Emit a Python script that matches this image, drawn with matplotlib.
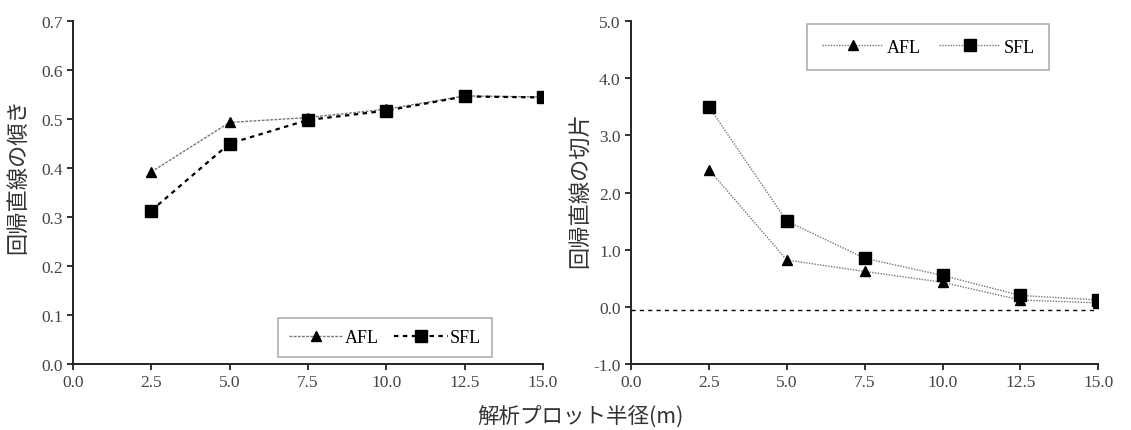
import numpy as np
import matplotlib.pyplot as plt

plt.rcParams['font.family'] = ['Liberation Serif', 'Noto Sans CJK JP']

# plot radius (m)
radius = [2.5, 5.0, 7.5, 10.0, 12.5, 15.0]

# slope of regression line
slope_afl = [0.392, 0.493, 0.503, 0.520, 0.547, 0.545]
slope_sfl = [0.313, 0.450, 0.498, 0.517, 0.546, 0.544]

# intercept of regression line
icpt_afl = [2.40, 0.82, 0.62, 0.43, 0.12, 0.07]
icpt_sfl = [3.50, 1.50, 0.85, 0.55, 0.20, 0.12]
zero_ref = -0.05

jp = 'Noto Sans CJK JP'

fig = plt.figure(figsize=(11.31, 4.31), dpi=100)
ax1 = fig.add_axes([0.0645, 0.153, 0.4155, 0.796])
ax2 = fig.add_axes([0.558, 0.153, 0.413, 0.796])

for ax in (ax1, ax2):
    for s in ('top', 'right'):
        ax.spines[s].set_visible(False)
    for s in ('left', 'bottom'):
        ax.spines[s].set_linewidth(1.4)
        ax.spines[s].set_color('#222222')
    ax.tick_params(direction='out', length=4, width=1.3, labelsize=12.5,
                   color='#222222', labelcolor='#444444')
    ax.set_xlim(0, 15)
    ax.set_xticks(np.arange(0, 15.1, 2.5))
    ax.set_xticklabels([f'{v:.1f}' for v in np.arange(0, 15.1, 2.5)])

# left: slope
ax1.plot(radius, slope_afl, color='#777777', lw=1.0, ls=(0, (2, 1)),
         marker='^', ms=7.5, mfc='black', mec='black', label='AFL')
ax1.plot(radius, slope_sfl, color='black', lw=1.6, ls=(0, (2, 2)),
         marker='s', ms=8, mfc='black', mec='black', label='SFL')
ax1.set_ylim(0, 0.7)
ax1.set_yticks(np.arange(0, 0.71, 0.1))
ax1.set_yticklabels([f'{v:.1f}' for v in np.arange(0, 0.71, 0.1)])
ax1.set_ylabel('回帰直線の傾き', family=jp, fontsize=16, color='#333333')
ax1.yaxis.set_label_coords(-0.094, 0.55)
leg1 = ax1.legend(loc='lower right', bbox_to_anchor=(0.91, -0.005), ncol=2, fontsize=13,
                  fancybox=False, handlelength=3.0, columnspacing=0.8,
                  handletextpad=0.1, borderpad=0.6)
leg1.get_frame().set_edgecolor('#999999')
leg1.get_frame().set_linewidth(1.2)

# right: intercept
ax2.plot(radius, icpt_afl, color='#777777', lw=1.0, ls=(0, (1, 1)),
         marker='^', ms=7.5, mfc='black', mec='black', label='AFL')
ax2.plot(radius, icpt_sfl, color='#777777', lw=1.0, ls=(0, (1, 1)),
         marker='s', ms=8, mfc='black', mec='black', label='SFL')
ax2.axhline(zero_ref, color='black', lw=1.0, ls=(0, (3, 3)))
ax2.set_ylim(-1, 5)
ax2.set_yticks(np.arange(-1, 5.1, 1))
ax2.set_yticklabels([f'{v:.1f}' for v in np.arange(-1, 5.1, 1)])
ax2.set_ylabel('回帰直線の切片', family=jp, fontsize=16, color='#333333')
ax2.yaxis.set_label_coords(-0.083, 0.51)
leg2 = ax2.legend(loc='upper right', bbox_to_anchor=(0.915, 1.017), ncol=2, fontsize=13,
                  fancybox=False, handlelength=3.4, columnspacing=1.0,
                  handletextpad=0.2, borderpad=0.8)
leg2.get_frame().set_edgecolor('#999999')
leg2.get_frame().set_linewidth(1.2)

fig.text(0.513, 0.008, '解析プロット半径(m)', family=jp, fontsize=15.5, color='#333333',
         ha='center', va='bottom')

fig.savefig('out.png', dpi=100)
